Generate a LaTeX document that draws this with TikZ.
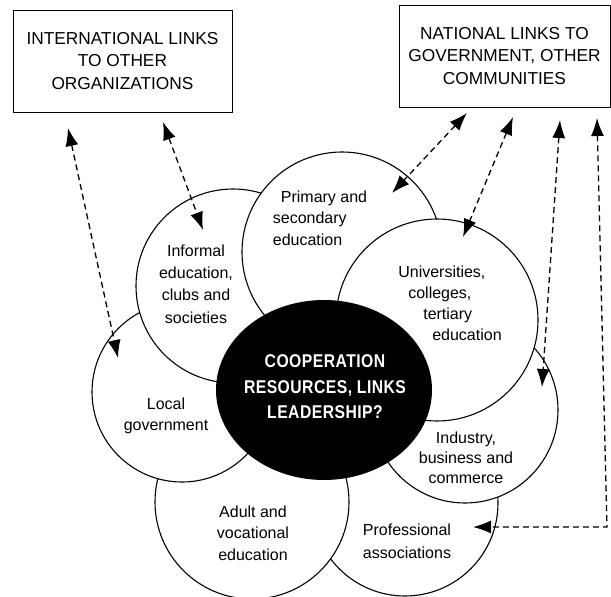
\documentclass[tikz,border=0pt]{standalone}
\usepackage{fontspec}
\setmainfont{Liberation Sans}
\newfontfamily\hubfont{Liberation Sans}[FakeStretch=0.85,LetterSpace=2.5]
\usetikzlibrary{arrows.meta,positioning,shapes.geometric}

%% ring circles: name/x/y/radius (drawn bottom to top)
\def\setofrings{prof/405/503/93, adult/252/502/97, local/182/392/90,
  informal/233/286/97, primary/342/252/100, industry/465/410/93,
  univ/437/320/101}
%% dashed links: x1/y1/x2/y2/n
\def\setoflinks{68/128/118/358/1, 163/122/203/230/2, 467/113/392/193/3,
  513/117/463/237/4, 560/120/542/387/5}

\tikzset{
  ring/.style={circle,draw,fill=white,line width=1.1pt,inner sep=0pt},
  linkbox/.style={rectangle,draw,line width=0.9pt,align=center,
    font=\fontsize{17.3}{22.5}\selectfont},
  ringtext/.style={font=\fontsize{16}{21.5}\selectfont,inner sep=0pt},
  linkarrow/.style={line width=1.3pt,dash pattern=on 6pt off 4pt,
    {Latex[length=18pt,width=13pt]}-{Latex[length=18pt,width=13pt]}}
}

\begin{document}
\begin{tikzpicture}[x=1pt,y=-1pt]
  \useasboundingbox (0,0) rectangle (611,597);

  %% BOXES
  \node[linkbox,minimum width=219pt,minimum height=102pt] (intl)
    at (122.5,61) {INTERNATIONAL LINKS\\TO OTHER\\ORGANIZATIONS};
  \node[linkbox,minimum width=211pt,minimum height=102pt] (natl)
    at (504.5,56) {NATIONAL LINKS TO\\GOVERNMENT, OTHER\\COMMUNITIES};

  %% RINGS
  \foreach \name/\cx/\cy/\r in \setofrings {%
    \node[ring,minimum size=2*\r] (\name) at (\cx,\cy) {};
  }
  \node[ellipse,fill=black,minimum width=216pt,minimum height=180pt,
    inner sep=0pt] (hub) at (324,390) {};
  \node[text=white,align=center,inner sep=0pt,
    font=\hubfont\bfseries\fontsize{18.5}{25.5}\selectfont] (hubtext)
    at (325,387) {COOPERATION\\RESOURCES, LINKS\\LEADERSHIP?};

  %% RING LABELS
  \node[ringtext,align=center,font=\fontsize{16}{22.3}\selectfont]
    (informaltext) at (196,284) {Informal\\education,\\clubs and\\societies};
  \node[ringtext,align=left] (primarytext) at (320,218)
    {\hspace*{8pt}Primary and\\secondary\\education};
  \node[ringtext,align=left,font=\fontsize{16}{21}\selectfont] (univtext)
    at (450,303) {Universities,\\\hspace*{10pt}colleges,\\
      \hspace*{25pt}tertiary\\\hspace*{34pt}education};
  \node[ringtext,align=center] (localtext) at (166,416) {Local\\government};
  \node[ringtext,align=center] (adulttext) at (253,533)
    {Adult and\\vocational\\education};
  \node[ringtext,align=center,font=\fontsize{16}{20}\selectfont]
    (industrytext) at (466,458) {Industry,\\business and\\commerce};
  \node[ringtext,align=center,font=\fontsize{16}{23}\selectfont]
    (proftext) at (407,541) {Professional\\associations};

  %% LINKS
  \foreach \xa/\ya/\xb/\yb/\n in \setoflinks {%
    \coordinate (top\n) at (\xa,\ya);
    \coordinate (end\n) at (\xb,\yb);
    \draw[linkarrow] (top\n) -- (end\n);
  }
  \coordinate (top6) at (597,118);
  \coordinate (bend6) at (607,527);
  \coordinate (end6) at (473,527);
  \draw[linkarrow] (top6) -- (bend6) -- (end6);
\end{tikzpicture}
\end{document}
